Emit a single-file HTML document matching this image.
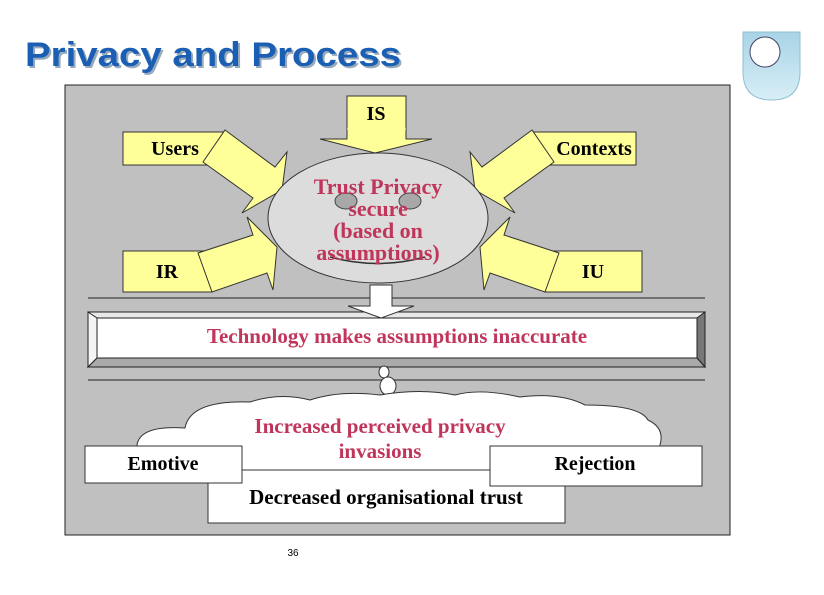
<!DOCTYPE html>
<html><head><meta charset="utf-8"><style>
html,body{margin:0;padding:0;background:#fff;width:824px;height:595px;overflow:hidden}
svg{display:block}
.t{font-family:"Liberation Serif",serif;font-weight:bold}
</style></head><body>
<svg width="824" height="595" viewBox="0 0 824 595" xmlns="http://www.w3.org/2000/svg">
<defs>
<linearGradient id="lg" x1="0" y1="0" x2="0" y2="1"><stop offset="0" stop-color="#a8d4e6"/><stop offset="1" stop-color="#d8eef6"/></linearGradient>
</defs>
<text x="27" y="68" font-family="Liberation Sans,sans-serif" font-weight="bold" font-size="34" fill="#9ab" textLength="376" lengthAdjust="spacingAndGlyphs">Privacy and Process</text>
<text x="25" y="66" font-family="Liberation Sans,sans-serif" font-weight="bold" font-size="34" fill="#1a5fb4" textLength="376" lengthAdjust="spacingAndGlyphs">Privacy and Process</text>
<path d="M743 32 H800 V72 Q800 100 772 100 Q743 100 743 72 Z" fill="url(#lg)" stroke="#8fbfd3"/>
<circle cx="765" cy="52" r="15" fill="#fff" stroke="#446" stroke-width="1"/>
<rect x="65" y="85" width="665" height="450" fill="#c0c0c0" stroke="#222" stroke-width="1"/>
<g fill="#ffff99" stroke="#333" stroke-width="1">
<rect x="123" y="132" width="102" height="33"/>
<rect x="532" y="132" width="104" height="33"/>
<rect x="123" y="251" width="89" height="41"/>
<rect x="545" y="251" width="97" height="41"/>
<path d="M347 96 H406 V139 H432 L375 153 L320 139 H347 Z"/>
<path d="M225 130 L275 167 L287 152 L282 190 L242 213 L253 198 L203 162 Z"/>
<path d="M532 130 L482 167 L470 152 L475 190 L515 213 L504 198 L554 162 Z"/>
<path d="M198 253 L253 235 L247 217 L277 247 L273 290 L267 273 L212 292 Z"/>
<path d="M559 253 L504 235 L510 217 L480 247 L484 290 L490 273 L545 292 Z"/>
</g>
<line x1="347" y1="129" x2="406" y2="129" stroke="#ffff99" stroke-width="1"/>
<ellipse cx="378" cy="218" rx="110" ry="65" fill="#dcdcdc" stroke="#333"/>
<ellipse cx="346" cy="201" rx="11" ry="8" fill="#a8a8a8" stroke="#444"/>
<ellipse cx="410" cy="201" rx="11" ry="8" fill="#a8a8a8" stroke="#444"/>
<path d="M330 257 Q378 270 425 257" fill="none" stroke="#333" stroke-width="1.5"/>
<text class="t" x="376" y="120" font-size="20" text-anchor="middle">IS</text>
<text class="t" x="175" y="155" font-size="20" text-anchor="middle">Users</text>
<text class="t" x="594" y="155" font-size="20" text-anchor="middle">Contexts</text>
<text class="t" x="167" y="278" font-size="20" text-anchor="middle">IR</text>
<text class="t" x="593" y="278" font-size="20" text-anchor="middle">IU</text>
<g class="t" font-size="22" fill="#c0355a" text-anchor="middle">
<text x="378" y="194">Trust Privacy</text>
<text x="378" y="216">secure</text>
<text x="378" y="238">(based on</text>
<text x="378" y="260">assumptions)</text>
</g>
<line x1="88" y1="298" x2="705" y2="298" stroke="#222"/>
<rect x="88" y="312" width="617" height="55" fill="#e8e8e8" stroke="#222"/>
<path d="M88 312 L97 318 V358 L88 367 Z" fill="#f4f4f4" stroke="#222"/>
<path d="M705 312 L697 318 V358 L705 367 Z" fill="#777" stroke="#222"/>
<path d="M88 367 L97 358 H697 L705 367 Z" fill="#aaa" stroke="#222"/>
<rect x="97" y="318" width="600" height="40" fill="#fff" stroke="#222"/>
<path d="M370 285 H392 V306 H414 L381 318 L348 306 H370 Z" fill="#fff" stroke="#333"/>
<text class="t" x="397" y="343" font-size="21" fill="#c0355a" text-anchor="middle">Technology makes assumptions inaccurate</text>
<line x1="88" y1="380" x2="705" y2="380" stroke="#222"/>
<ellipse cx="384" cy="372" rx="5" ry="6" fill="#fff" stroke="#333"/>
<ellipse cx="388" cy="386" rx="8" ry="9" fill="#fff" stroke="#333"/>
<path d="M137 445 Q140 425 185 428 Q190 400 250 402 Q280 392 310 400 Q340 390 380 395 Q420 388 455 395 Q480 388 520 397 Q560 392 585 405 Q640 405 648 420 Q665 428 660 445 L660 470 H137 Z" fill="#fff" stroke="#333"/>
<rect x="208" y="470" width="357" height="53" fill="#fff" stroke="#333"/>
<rect x="85" y="446" width="157" height="37" fill="#fff" stroke="#333"/>
<rect x="490" y="446" width="212" height="40" fill="#fff" stroke="#333"/>
<text class="t" x="380" y="433" font-size="21" fill="#c0355a" text-anchor="middle">Increased perceived privacy</text>
<text class="t" x="380" y="458" font-size="21" fill="#c0355a" text-anchor="middle">invasions</text>
<text class="t" x="163" y="470" font-size="20" text-anchor="middle">Emotive</text>
<text class="t" x="595" y="470" font-size="20" text-anchor="middle">Rejection</text>
<text class="t" x="386" y="504" font-size="21" text-anchor="middle">Decreased organisational trust</text>
<text x="293" y="556" font-family="Liberation Sans,sans-serif" font-size="10" text-anchor="middle">36</text>
</svg>
</body></html>
